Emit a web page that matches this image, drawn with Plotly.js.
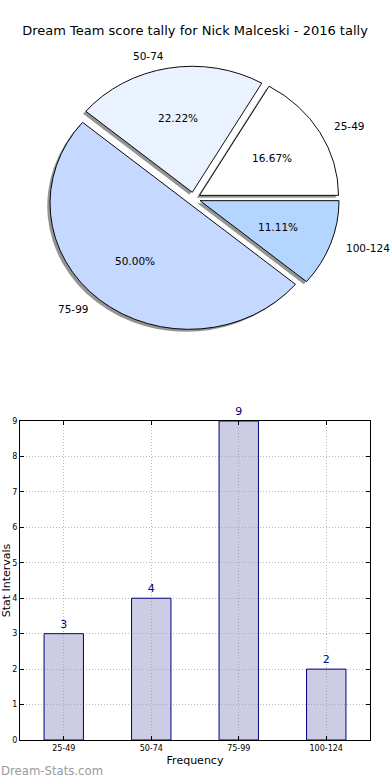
<!DOCTYPE html>
<html><head><meta charset="utf-8">
<script src="https://cdn.plot.ly/plotly-3.0.1.min.js"></script>
<style>html,body{margin:0;padding:0;background:#fff;} #chart{width:390px;height:780px;}</style>
</head><body><div id="chart"></div>
<script>
// ---- data ----
const categories = ['25-49', '50-74', '75-99', '100-124'];
const counts = [3, 4, 9, 2];
const sliceColors = ['#ffffff', '#eaf2ff', '#c5d8ff', '#b3d5ff'];
const yTicks = [0, 1, 2, 3, 4, 5, 6, 7, 8, 9];
const chartTitle = 'Dream Team score tally for Nick Malceski - 2016 tally';

// ---- geometry / style ----
const W = 390, H = 780;
const FONT = 'DejaVu Sans';
const cx = 193.5, cy = 198.5, rx = 139, ry = 126, pull = 0.05;
const half = rx * (1 + pull);
function dom(px, py) {
  return { x: [(px - half) / W, (px + half) / W], y: [1 - (py + half) / H, 1 - (py - half) / H] };
}
const shOff = 0.02 * rx;
const total = counts.reduce((a, b) => a + b, 0);
// first slice starts at 3 o'clock and runs counterclockwise
const rotation = 90 - 360 * counts[0] / total;

const pieBase = {
  type: 'pie', values: counts, labels: categories, sort: false,
  direction: 'counterclockwise', rotation: rotation,
  pull: counts.map(() => pull), textinfo: 'none', hoverinfo: 'none', showlegend: false
};
const shadowPie = Object.assign({}, pieBase, {
  domain: dom(cx - shOff, cy + shOff),
  marker: { colors: counts.map(() => 'rgba(60,60,60,0.55)'), line: { width: 0 } }
});
const mainPie = Object.assign({}, pieBase, {
  domain: dom(cx, cy),
  marker: { colors: sliceColors, line: { color: '#000000', width: 1 } }
});

const annotations = [];
let cum = 0;
counts.forEach((v, i) => {
  const mid = (cum + v / 2) / total * 2 * Math.PI;
  cum += v;
  const c = Math.cos(mid), s = Math.sin(mid);
  const lx = cx + (1.1 + pull) * rx * c, ly = cy - (1.1 + pull) * ry * s;
  annotations.push({
    text: categories[i], x: lx / W, y: 1 - ly / H, xref: 'paper', yref: 'paper',
    xanchor: c >= 0 ? 'left' : 'right', yanchor: 'middle', showarrow: false,
    font: { family: FONT, size: 10.5, color: '#000' }
  });
  const tx = cx + (0.6 + pull) * rx * c, ty = cy - (0.6 + pull) * ry * s;
  annotations.push({
    text: (v / total * 100).toFixed(2) + '%', x: tx / W, y: 1 - ty / H, xref: 'paper', yref: 'paper',
    xanchor: 'center', yanchor: 'middle', showarrow: false,
    font: { family: FONT, size: 10.5, color: '#000' }
  });
});
annotations.push({
  text: 'Dream-Stats.com', x: 0, y: 1 - 771 / H, xref: 'paper', yref: 'paper',
  xanchor: 'left', yanchor: 'middle', showarrow: false, borderpad: 0,
  font: { family: FONT, size: 11.7, color: '#9a9a9a' }
});

const bars = {
  type: 'bar', x: categories, y: counts, xaxis: 'x', yaxis: 'y', width: 0.45,
  marker: { color: 'rgba(153,153,204,0.5)', line: { color: '#000080', width: 1 } },
  text: counts.map(String), textposition: 'outside', cliponaxis: false,
  textfont: { family: FONT, size: 11, color: '#000080' }, hoverinfo: 'none', showlegend: false
};

const axisCommon = {
  showline: true, linecolor: '#000', linewidth: 1, mirror: 'ticks',
  ticks: 'inside', ticklen: 4, tickcolor: '#000', tickwidth: 1,
  showgrid: true, gridcolor: '#b8b8b8', gridwidth: 1, griddash: '1px,2px',
  zeroline: false, fixedrange: true,
  tickfont: { family: FONT, size: 8, color: '#000' }
};

const layout = {
  width: W, height: H, margin: { l: 0, r: 0, t: 0, b: 0 },
  paper_bgcolor: '#fff', plot_bgcolor: '#fff', showlegend: false,
  title: {
    text: chartTitle, x: 0.5, xanchor: 'center', xref: 'paper',
    y: 1 - 30 / H, yref: 'container', yanchor: 'middle',
    font: { family: FONT, size: 13, color: '#000' }
  },
  xaxis: Object.assign({}, axisCommon, {
    domain: [20 / W, 370 / W], anchor: 'y', type: 'category',
    range: [-0.5, categories.length - 0.5],
    title: { text: 'Frequency', font: { family: FONT, size: 11, color: '#000' }, standoff: 4 }
  }),
  yaxis: Object.assign({}, axisCommon, {
    domain: [1 - 740 / H, 1 - 421 / H], anchor: 'x', range: [0, 9], tickvals: yTicks,
    title: { text: 'Stat Intervals', font: { family: FONT, size: 11, color: '#000' }, standoff: 0 }
  }),
  annotations: annotations
};

Plotly.newPlot('chart', [shadowPie, mainPie, bars], layout, { staticPlot: true, displayModeBar: false })
  .then(gd => {
    const layer = gd.querySelector('.pielayer');
    const s = ry / rx;
    if (layer) layer.setAttribute('transform', 'translate(0 ' + (cy * (1 - s)) + ') scale(1 ' + s + ')');
  });
</script>
</body></html>
